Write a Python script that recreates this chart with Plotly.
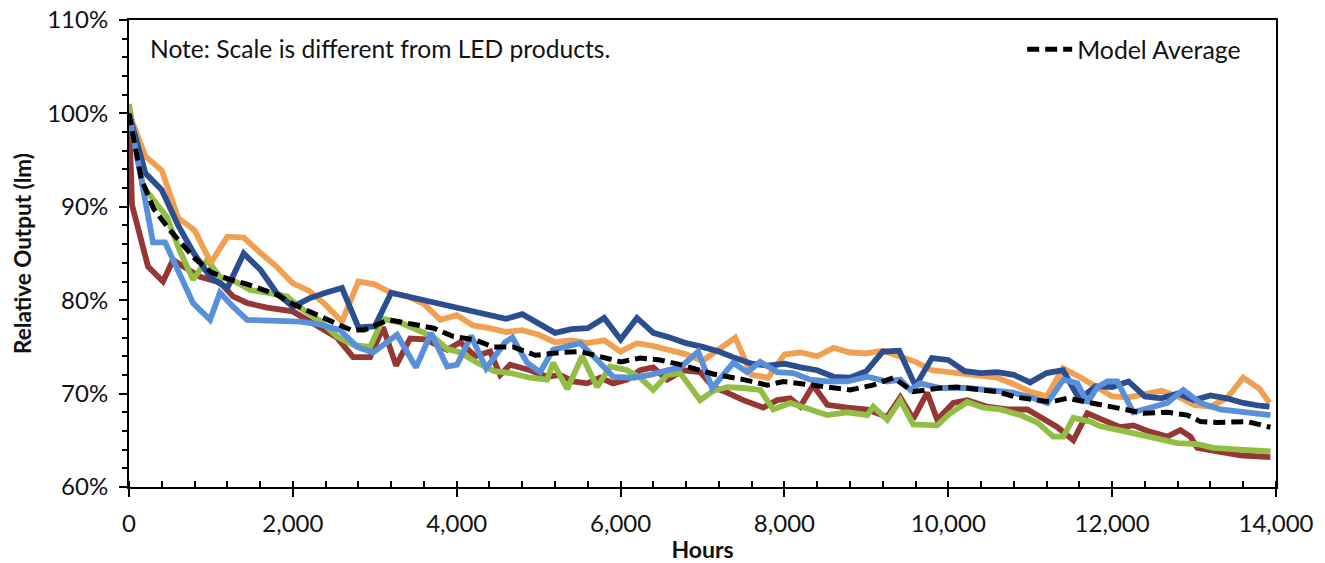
import plotly.graph_objects as go

# ---------------- data ----------------
grid_hours = list(range(0, 13801, 200)) + [13920]

orange = [100.0, 95.4, 93.9, 88.8, 87.5, 84.0, 86.8, 86.7, 85.1, 83.6,
          81.8, 81.0, 79.5, 77.7, 82.0, 81.7, 80.8, 80.4, 79.6, 77.9,
          78.4, 77.3, 77.0, 76.6, 76.8, 76.3, 75.5, 75.7, 75.4, 75.7,
          74.5, 75.4, 75.1, 74.7, 74.2, 73.5, 74.8, 76.0, 72.0, 71.7,
          74.2, 74.4, 74.0, 74.9, 74.4, 74.3, 74.6, 74.0, 73.4, 72.5,
          72.3, 72.2, 72.0, 71.7, 71.0, 70.2, 69.7, 72.7, 71.8, 70.8,
          69.7, 69.6, 70.0, 70.3, 69.7, 68.8, 68.6, 69.5, 71.7, 70.5,
          69.0]

dark_blue = [100.0, 93.6, 91.8, 88.0, 84.9, 82.4, 81.3, 85.0, 83.3, 80.8,
             79.3, 80.2, 80.8, 81.3, 77.1, 77.2, 80.8, 80.4, 80.1, 79.6,
             79.2, 78.9, 78.5, 78.0, 78.5, 77.5, 76.5, 76.9, 77.0, 78.1,
             75.8, 78.1, 76.5, 76.0, 75.4, 75.0, 74.5, 73.8, 73.2, 73.0,
             73.2, 72.8, 72.5, 71.8, 71.7, 72.4, 74.5, 74.6, 70.8, 73.8,
             73.6, 72.4, 72.2, 72.3, 72.0, 71.2, 72.2, 72.5, 69.4, 70.8,
             70.7, 71.3, 69.7, 69.5, 70.0, 69.3, 69.8, 69.5, 69.0, 68.7,
             68.6]

light_blue_hours = [0, 293, 440, 537, 781, 989, 1111, 1270, 1441, 2088,
                    2332, 2576, 2784, 2979, 3272, 3504, 3687, 3883, 4005, 4176,
                    4359, 4591, 4680, 4860, 5018, 5177, 5348, 5507, 5714, 5910,
                    6154, 6361, 6569, 6728, 6947, 7118, 7375, 7546, 7705, 7912,
                    8107, 8315, 8522, 8767, 9011, 9255, 9414, 9536, 9658, 9902,
                    10232, 10549, 10794, 11001, 11209, 11404, 11575, 11697, 11819, 11941,
                    12063, 12259, 12466, 12674, 12869, 13077, 13321, 13565, 13932]
light_blue = [100.0, 86.2, 86.2, 84.3, 79.7, 77.9, 80.8, 79.3, 77.9, 77.7,
              77.4, 76.8, 75.0, 74.4, 76.3, 72.8, 76.5, 72.9, 73.1, 76.2,
              72.7, 75.5, 76.0, 73.3, 72.3, 74.7, 75.0, 75.4, 73.6, 71.8,
              71.7, 72.0, 72.5, 72.8, 74.5, 70.6, 73.3, 72.3, 73.4, 72.3,
              72.2, 71.5, 71.3, 71.3, 71.8, 71.3, 71.5, 70.4, 71.1, 70.6,
              70.6, 70.4, 70.1, 69.6, 69.0, 71.5, 71.1, 69.0, 70.7, 71.3,
              71.3, 68.0, 68.5, 69.0, 70.4, 69.0, 68.3, 68.0, 67.7]

red_hours = [0, 37, 232, 415, 537, 708, 867, 1111, 1270, 1441,
             1685, 2000, 2332, 2539, 2735, 2943, 3101, 3260, 3431, 3614,
             3883, 4042, 4225, 4408, 4530, 4652, 4896, 5104, 5262, 5421,
             5592, 5751, 5910, 6081, 6239, 6398, 6569, 6764, 6972, 7130,
             7301, 7497, 7741, 7912, 8070, 8193, 8351, 8522, 8767, 9011,
             9255, 9414, 9572, 9743, 9865, 10061, 10232, 10476, 10721, 10965,
             11124, 11332, 11527, 11697, 11856, 12100, 12259, 12466, 12674, 12833,
             12955, 13040, 13284, 13565, 13932]
red = [100.0, 90.2, 83.6, 82.0, 84.3, 83.3, 82.5, 81.9, 80.4, 79.7,
       79.2, 78.8, 77.1, 76.0, 73.9, 73.9, 77.1, 73.0, 75.9, 75.8,
       74.7, 75.5, 74.0, 74.5, 72.0, 73.1, 72.5, 71.8, 72.0, 71.3,
       71.1, 71.7, 71.1, 71.5, 72.5, 72.8, 71.5, 72.5, 72.3, 70.7,
       70.1, 69.3, 68.5, 69.3, 69.5, 68.6, 70.9, 68.8, 68.5, 68.3,
       67.5, 69.6, 67.3, 70.1, 67.2, 69.0, 69.3, 68.6, 68.3, 68.3,
       67.5, 66.4, 65.0, 67.9, 67.3, 66.4, 66.6, 65.9, 65.4, 66.1,
       65.4, 64.2, 63.8, 63.4, 63.2]

green_hours = [0, 171, 293, 464, 610, 781, 952, 1111, 1319, 1477,
               1685, 1929, 2088, 2332, 2539, 2735, 2943, 3101, 3309, 3516,
               3711, 3883, 4042, 4249, 4457, 4652, 4896, 5104, 5177, 5348,
               5531, 5714, 5873, 6081, 6239, 6398, 6569, 6728, 6972, 7130,
               7301, 7497, 7705, 7863, 8070, 8315, 8522, 8767, 9011, 9084,
               9255, 9414, 9572, 9865, 10024, 10232, 10427, 10635, 10879, 11087,
               11282, 11404, 11527, 11734, 11856, 12185, 12503, 12796, 13040, 13235,
               13565, 13932]
green = [101.0, 92.2, 90.8, 88.9, 85.5, 82.2, 84.3, 82.5, 81.9, 81.1,
         80.8, 80.4, 79.2, 77.8, 76.1, 75.2, 75.0, 78.0, 77.6, 76.8,
         76.1, 74.8, 74.4, 73.3, 72.4, 72.2, 71.7, 71.5, 73.3, 70.5,
         74.0, 70.7, 72.9, 72.5, 71.7, 70.4, 72.0, 72.2, 69.3, 70.3,
         70.7, 70.6, 70.4, 68.3, 69.0, 68.3, 67.7, 68.0, 67.7, 68.6,
         67.2, 69.3, 66.7, 66.6, 67.9, 69.1, 68.5, 68.3, 67.7, 66.9,
         65.4, 65.4, 67.4, 67.0, 66.5, 65.9, 65.2, 64.7, 64.6, 64.2,
         64.0, 63.8]

avg_hours = [0, 150, 300, 500, 800, 1000, 1200, 1450, 1800, 2000,
             2250, 2430, 2710, 2870, 3170, 3480, 3720, 3960, 4200, 4450,
             4690, 4960, 5260, 5510, 5750, 6000, 6240, 6480, 6730, 6970,
             7130, 7500, 7790, 7990, 8190, 8520, 8800, 9080, 9330, 9570,
             9900, 10110, 10350, 10600, 10840, 11040, 11250, 11450, 11700, 11980,
             12100, 12381, 12674, 12918, 13077, 13284, 13480, 13651, 13932]
model_average = [100.0, 93.0, 89.8, 87.5, 84.5, 83.0, 82.3, 81.7, 80.6, 79.6,
                 78.6, 77.9, 76.8, 76.8, 77.9, 77.4, 77.0, 76.1, 75.8, 75.0,
                 75.0, 74.1, 74.4, 74.5, 73.9, 73.4, 73.8, 73.6, 73.1, 72.5,
                 72.1, 71.5, 70.9, 71.3, 71.1, 70.7, 70.4, 70.9, 71.7, 70.2,
                 70.6, 70.7, 70.4, 70.2, 69.6, 69.3, 69.1, 69.5, 69.1, 68.7,
                 68.4, 67.9, 68.0, 67.7, 67.0, 66.9, 67.0, 67.0, 66.4]

note_text = "Note: Scale is different from LED products."

# ---------------- figure ----------------
FONT = "Lato, Carlito, 'Liberation Sans', sans-serif"
LW = 5.8

fig = go.Figure()
series = [
    (red_hours, red, "#953735"),
    (green_hours, green, "#92BE46"),
    (grid_hours, orange, "#F0A050"),
    (grid_hours, dark_blue, "#2B4E91"),
    (light_blue_hours, light_blue, "#5A90DA"),
]
for xs, ys, col in series:
    fig.add_trace(go.Scatter(x=xs, y=ys, mode="lines", showlegend=False,
                             line=dict(color=col, width=LW), hoverinfo="skip"))

fig.add_trace(go.Scatter(x=avg_hours, y=model_average, mode="lines",
                         name="Model Average",
                         line=dict(color="black", width=5, dash="12px,6px")))

fig.update_layout(
    width=1325, height=563,
    margin=dict(l=129, r=49, t=20, b=76, autoexpand=False),
    paper_bgcolor="white", plot_bgcolor="white",
    font=dict(family=FONT, size=24, color="#111111"),
    showlegend=True,
    legend=dict(x=0.974, y=0.986, xanchor="right", yanchor="top",
                bgcolor="rgba(0,0,0,0)", font=dict(size=24.8), itemwidth=45),
    annotations=[dict(text=note_text, xref="paper", yref="paper",
                      x=0.0166, y=0.938, xanchor="left", yanchor="middle",
                      showarrow=False, font=dict(size=24.6))],
)

fig.update_xaxes(
    range=[0, 14000], dtick=2000, tickformat=",d", automargin=False,
    showline=True, linecolor="black", linewidth=2, mirror=True,
    ticks="outside", ticklen=8, tickcolor="black", tickwidth=1.5,
    minor=dict(dtick=400, ticks="inside", ticklen=6, tickcolor="black", tickwidth=1.5),
    showgrid=False, zeroline=False, tickfont=dict(size=24), ticklabelstandoff=6,
    title=dict(text="<b>Hours</b>", font=dict(size=23), standoff=6),
)
fig.update_yaxes(
    range=[60, 110], dtick=10, ticksuffix="%", automargin=False,
    showline=True, linecolor="black", linewidth=2, mirror=True,
    ticks="outside", ticklen=8, tickcolor="black", tickwidth=1.5,
    minor=dict(dtick=2, ticks="outside", ticklen=5, tickcolor="black", tickwidth=1.5),
    showgrid=False, zeroline=False, tickfont=dict(size=24), ticklabelstandoff=6,
    title=dict(text="<b>Relative Output (lm)</b>", font=dict(size=22.5), standoff=9),
)

fig.write_html("out.html", config={"displayModeBar": False},
               post_script="document.body.style.margin='0';")
